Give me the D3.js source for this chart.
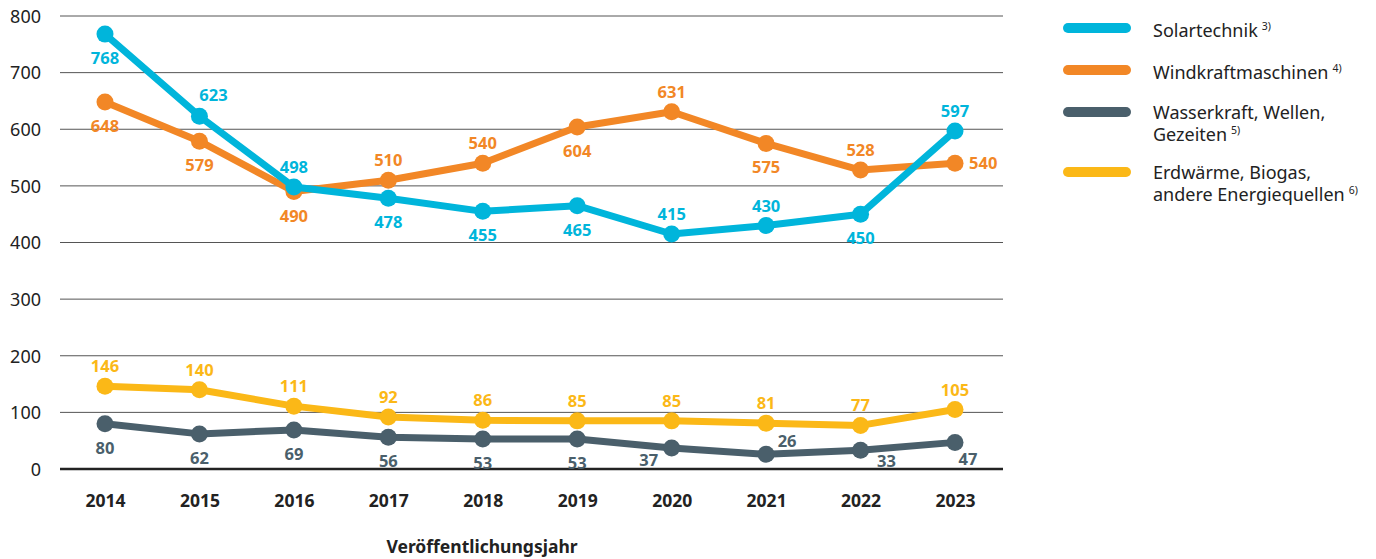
<!DOCTYPE html>
<html>
<head>
<meta charset="utf-8">
<script src="https://cdn.jsdelivr.net/npm/d3@7"></script>
<style>
  body { margin: 0; background: #fff; }
  svg { font-family: "Noto Sans", "Open Sans", sans-serif; }
</style>
</head>
<body>
<svg id="chart" width="1376" height="559"></svg>
<script>
const years = ['2014', '2015', '2016', '2017', '2018', '2019', '2020', '2021', '2022', '2023'];
const yTicks = [0, 100, 200, 300, 400, 500, 600, 700, 800];

const solar = [768, 623, 498, 478, 455, 465, 415, 430, 450, 597];
const wind = [648, 579, 490, 510, 540, 604, 631, 575, 528, 540];
const water = [80, 62, 69, 56, 53, 53, 37, 26, 33, 47];
const geo = [146, 140, 111, 92, 86, 85, 85, 81, 77, 105];

// where each value label sits relative to its point
const solarPos = ['below', 'aboveRight', 'above', 'below', 'below', 'below', 'above', 'above', 'below', 'above'];
const windPos = ['below', 'below', 'below', 'above', 'above', 'below', 'above', 'below', 'above', 'right'];
const waterPos = ['below', 'below', 'below', 'below', 'below', 'below', 'belowLeft', 'upRight', 'belowRight', 'belowRight2'];
const geoPos = ['above', 'above', 'above', 'above', 'above', 'above', 'above', 'above', 'above', 'above'];

const series = [
  { name: 'Wasserkraft, Wellen,', name2: 'Gezeiten', note: '5)', values: water, pos: waterPos, color: '#4a5f6b', legendY: 112 },
  { name: 'Erdwärme, Biogas,', name2: 'andere Energiequellen', note: '6)', values: geo, pos: geoPos, color: '#fbb817', legendY: 172 },
  { name: 'Windkraftmaschinen', note: '4)', values: wind, pos: windPos, color: '#f28726', legendY: 70 },
  { name: 'Solartechnik', note: '3)', values: solar, pos: solarPos, color: '#00b5db', legendY: 28 }
];

const svg = d3.select('#chart');
const margin = { left: 60, right: 373, top: 16, bottom: 90 };
const width = 1376 - margin.left - margin.right;
const height = 559 - margin.top - margin.bottom;

const g = svg.append('g').attr('transform', `translate(${margin.left},${margin.top})`);

const x = d3.scalePoint().domain(years).range([45, 895]);
const y = d3.scaleLinear().domain([0, 800]).range([height, 0]);

// gridlines
g.append('g')
  .selectAll('line')
  .data(yTicks.filter(d => d > 0))
  .join('line')
  .attr('x1', 0).attr('x2', width)
  .attr('y1', d => y(d)).attr('y2', d => y(d))
  .attr('stroke', '#555').attr('stroke-width', 1);

g.append('line')
  .attr('x1', 0).attr('x2', width)
  .attr('y1', y(0)).attr('y2', y(0))
  .attr('stroke', '#222').attr('stroke-width', 2.5);

// y axis labels
const yAxis = g.append('g')
  .call(d3.axisLeft(y).tickValues(yTicks).tickSize(0).tickPadding(19));
yAxis.select('.domain').remove();
yAxis.selectAll('text')
  .attr('fill', '#222').attr('dy', '0.35em')
  .attr('font-size', '18px').attr('font-family', '"Noto Sans", sans-serif');

// x axis labels
const xAxis = g.append('g')
  .attr('transform', `translate(0,${height})`)
  .call(d3.axisBottom(x).tickSize(0));
xAxis.select('.domain').remove();
xAxis.selectAll('text')
  .attr('fill', '#222').attr('y', 38).attr('dy', 0)
  .attr('font-size', '17.5px').attr('font-weight', 'bold')
  .attr('font-family', '"Noto Sans", sans-serif');

g.append('text')
  .attr('x', 422).attr('y', height + 84)
  .attr('text-anchor', 'middle')
  .attr('font-size', '17.5px').attr('font-weight', 'bold').attr('fill', '#222')
  .text('Veröffentlichungsjahr');

const line = d3.line()
  .x((d, i) => x(years[i]))
  .y(d => y(d));

// [dx, dy, anchor]
const offsets = {
  above: [0, -14, 'middle'],
  below: [0, 30, 'middle'],
  aboveRight: [14, -15, 'middle'],
  upRight: [21, -7, 'middle'],
  right: [14, 6, 'start'],
  belowLeft: [-23, 18, 'middle'],
  belowRight: [26, 17, 'middle'],
  belowRight2: [13, 23, 'middle']
};

series.forEach(s => {
  g.append('path')
    .datum(s.values)
    .attr('fill', 'none')
    .attr('stroke', s.color)
    .attr('stroke-width', 7)
    .attr('stroke-linejoin', 'round')
    .attr('d', line);

  g.append('g')
    .selectAll('circle')
    .data(s.values)
    .join('circle')
    .attr('cx', (d, i) => x(years[i]))
    .attr('cy', d => y(d))
    .attr('r', 8.5)
    .attr('fill', s.color);
});

series.forEach(s => {
  g.append('g')
    .selectAll('text')
    .data(s.values)
    .join('text')
    .attr('x', (d, i) => x(years[i]) + offsets[s.pos[i]][0])
    .attr('y', (d, i) => y(d) + offsets[s.pos[i]][1])
    .attr('text-anchor', (d, i) => offsets[s.pos[i]][2])
    .attr('font-size', '16.5px')
    .attr('font-weight', 'bold')
    .attr('fill', s.color)
    .text(d => d);
});

// legend
const legend = svg.append('g');
series.forEach(s => {
  const ly = s.legendY;
  legend.append('line')
    .attr('x1', 1068).attr('x2', 1126)
    .attr('y1', ly).attr('y2', ly)
    .attr('stroke', s.color).attr('stroke-width', 10)
    .attr('stroke-linecap', 'round');

  const lines = s.name2 ? [s.name, s.name2] : [s.name];
  const base = s.name2 ? ly + 7 : ly + 9;
  lines.forEach((txt, k) => {
    const t = legend.append('text')
      .attr('x', 1153).attr('y', base + k * 21.5)
      .attr('font-size', '18px').attr('fill', '#222');
    t.append('tspan').text(txt);
    if (k === lines.length - 1) {
      t.append('tspan').attr('dx', 4).attr('dy', -7).attr('font-size', '10.5px').text(s.note);
    }
  });
});
</script>
</body>
</html>
